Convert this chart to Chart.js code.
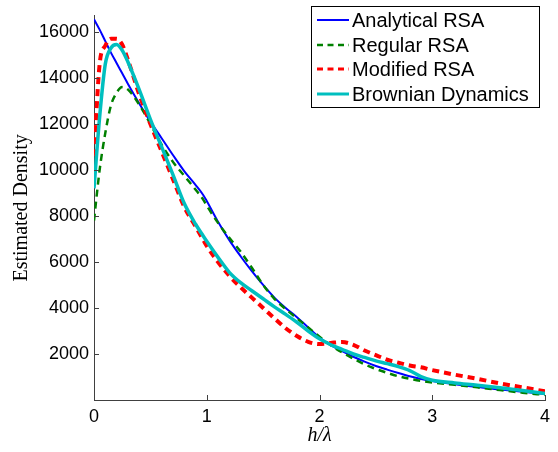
<!DOCTYPE html>
<html>
<head>
<meta charset="utf-8">
<script src="https://cdn.jsdelivr.net/npm/chart.js@4"></script>
<style>
html,body{margin:0;padding:0;background:#fff;}
#wrap{width:558px;height:452px;position:relative;}
</style>
</head>
<body>
<div id="wrap"><canvas id="c" width="558" height="452"></canvas></div>
<script>
// ---- data ----
const xValues = [0,0.05,0.1,0.15,0.2,0.25,0.3,0.4,0.5,0.6,0.7,0.8,0.9,0.97,1.0,1.1,1.2,1.3,1.4,1.5,1.6,1.7,1.8,1.9,2.0,2.1,2.2,2.3,2.4,2.5,2.6,2.7,2.8,2.9,3.0,3.2,3.4,3.6,3.8,4.0];
const analyticalRSA = [16550,16100,15600,15100,14650,14200,13750,12900,12100,11380,10650,9950,9350,8900,8650,7750,6950,6250,5600,5000,4450,4000,3600,3150,2720,2380,2120,1880,1670,1480,1320,1170,1030,910,820,680,560,460,360,260];
const regularRSA = [7800,10000,11600,12800,13350,13600,13500,12850,12000,11100,10350,9750,9150,8700,8450,7700,7050,6450,5750,5000,4400,3950,3550,3150,2750,2380,2070,1800,1550,1350,1180,1030,920,830,760,660,550,430,320,220];
const modifiedRSA = [10600,14600,15400,15700,15700,15450,14800,13300,12000,10800,9600,8400,7550,6950,6700,6000,5400,4900,4450,4000,3550,3120,2780,2530,2430,2480,2520,2400,2150,1950,1750,1620,1500,1420,1300,1100,920,720,550,380];
const brownianDynamics = [9200,12300,14600,15300,15450,15200,14700,13500,12200,11000,9800,8550,7650,7120,6900,6200,5550,5100,4750,4400,4050,3720,3380,3000,2660,2400,2200,2000,1850,1700,1580,1450,1280,1020,860,740,640,530,410,280];
const seriesNames = ['Analytical RSA','Regular RSA','Modified RSA','Brownian Dynamics'];
const xTicks = [0,1,2,3,4];
const yTicks = [2000,4000,6000,8000,10000,12000,14000,16000];

const styles = [
  {color:'#0000ff', width:2, dash:[]},
  {color:'#008000', width:2.5, dash:[7,5]},
  {color:'#ff0000', width:4, dash:[7,5]},
  {color:'#00bfbf', width:3.5, dash:[]}
];
const allSeries = [analyticalRSA, regularRSA, modifiedRSA, brownianDynamics];

const datasets = allSeries.map((vals, i) => ({
  label: seriesNames[i],
  data: xValues.map((x, j) => ({x: x, y: vals[j]})),
  borderColor: styles[i].color,
  borderWidth: styles[i].width,
  borderDash: styles[i].dash,
  pointRadius: 0,
  fill: false,
  cubicInterpolationMode: 'monotone',
  order: 3 - i
}));

const bgPlugin = {
  id: 'bg',
  beforeDraw(chart) {
    const ctx = chart.ctx;
    ctx.save();
    ctx.fillStyle = '#fff';
    ctx.fillRect(0, 0, chart.width, chart.height);
    ctx.restore();
  }
};

const inwardTicks = {
  id: 'inwardTicks',
  afterDatasetsDraw(chart) {
    const ctx = chart.ctx;
    const xs = chart.scales.x, ys = chart.scales.y;
    const a = chart.chartArea;
    ctx.save();
    ctx.strokeStyle = '#404040';
    ctx.lineWidth = 1;
    ctx.beginPath();
    xTicks.forEach(v => {
      const px = Math.round(xs.getPixelForValue(v)) + 0.5;
      ctx.moveTo(px, a.bottom);
      ctx.lineTo(px, a.bottom - 5);
    });
    yTicks.forEach(v => {
      const py = Math.round(ys.getPixelForValue(v)) + 0.5;
      ctx.moveTo(a.left, py);
      ctx.lineTo(a.left + 5, py);
    });
    ctx.stroke();
    ctx.restore();
  }
};

const legendPlugin = {
  id: 'customLegend',
  afterDraw(chart) {
    const ctx = chart.ctx;
    const bx = 311.5, by = 6.5, bw = 228, bh = 101;
    ctx.save();
    ctx.fillStyle = '#fff';
    ctx.fillRect(bx, by, bw, bh);
    ctx.strokeStyle = '#000';
    ctx.lineWidth = 1;
    ctx.strokeRect(bx, by, bw, bh);
    const rows = [20, 45, 69, 94];
    ctx.font = '20px "Liberation Sans", Arial, sans-serif';
    ctx.textBaseline = 'middle';
    ctx.textAlign = 'left';
    seriesNames.forEach((name, i) => {
      const s = styles[i];
      ctx.beginPath();
      ctx.strokeStyle = s.color;
      ctx.lineWidth = Math.min(s.width, 3);
      ctx.setLineDash(s.dash.length ? [6,4.5] : []);
      ctx.moveTo(317, rows[i]);
      ctx.lineTo(349, rows[i]);
      ctx.stroke();
      ctx.setLineDash([]);
      ctx.fillStyle = '#000';
      ctx.fillText(name, 352, rows[i] + 1);
    });
    ctx.restore();
  }
};

new Chart(document.getElementById('c'), {
  type: 'line',
  data: { datasets },
  plugins: [bgPlugin, inwardTicks, legendPlugin],
  options: {
    responsive: false,
    animation: false,
    events: [],
    layout: { padding: { left: 0, right: 13, top: 0, bottom: 0 } },
    plugins: { legend: { display: false }, tooltip: { enabled: false } },
    scales: {
      x: {
        type: 'linear',
        min: 0, max: 4,
        afterBuildTicks: s => { s.ticks = xTicks.map(v => ({value: v})); },
        afterFit: s => { s.height = 52; },
        grid: { display: false, drawTicks: false },
        border: { display: true, color: '#404040', width: 1 },
        ticks: { color: '#000', padding: 6, callback: v => String(v), font: { family: '"Liberation Sans", Arial, sans-serif', size: 18 }, maxRotation: 0 },
        title: { display: true, text: 'h/λ', color: '#000', padding: { top: 0, bottom: 4 }, font: { family: '"Liberation Serif", "Times New Roman", serif', size: 20, style: 'italic' } }
      },
      y: {
        type: 'linear',
        min: 0, max: 16700,
        afterBuildTicks: s => { s.ticks = yTicks.map(v => ({value: v})); },
        afterFit: s => { s.width = 94; },
        grid: { display: false, drawTicks: false },
        border: { display: true, color: '#404040', width: 1 },
        ticks: { color: '#000', padding: 5, callback: v => String(v), font: { family: '"Liberation Sans", Arial, sans-serif', size: 18 } },
        title: { display: true, text: 'Estimated Density', color: '#000', padding: { top: 10, bottom: 0 }, font: { family: '"Liberation Serif", "Times New Roman", serif', size: 20 } }
      }
    }
  }
});
</script>
</body>
</html>
